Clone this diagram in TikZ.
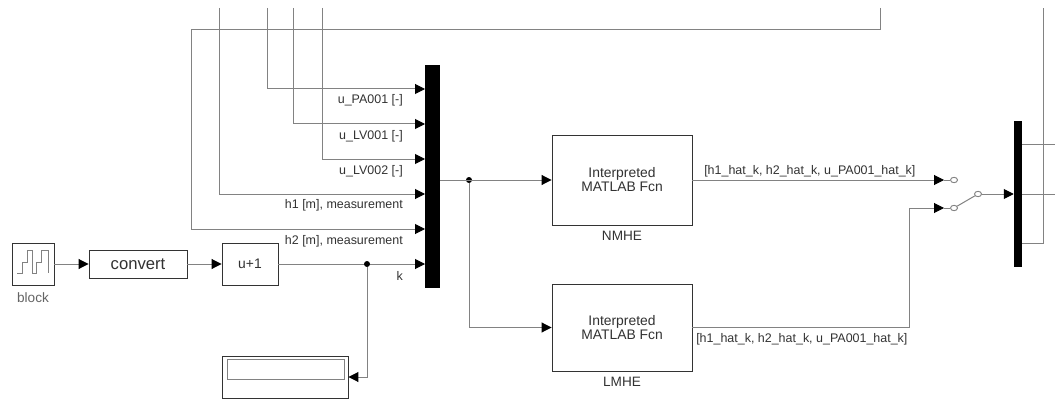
\documentclass[tikz,border=0pt]{standalone}
\usepackage{fontspec}
\setmainfont{Liberation Sans}
\usetikzlibrary{positioning,calc,arrows.meta,shadows,shapes.geometric}
\definecolor{wiregray}{RGB}{130,130,130}
\definecolor{labelgray}{RGB}{50,50,50}
\definecolor{namegray}{RGB}{100,100,100}

\begin{document}
\begin{tikzpicture}[
    x=0.75pt, y=-0.75pt,
    block/.style={rectangle, draw=black!80, fill=white, line width=0.7pt, inner sep=0pt,
                  align=center, text=labelgray, font=\fontsize{10.4}{10.5}\selectfont,
                  drop shadow={shadow xshift=0.6pt, shadow yshift=-0.6pt, opacity=0.3}},
    muxbar/.style={rectangle, fill=black, inner sep=0pt, minimum width=11.25pt},
    wire/.style={draw=wiregray, line width=0.75pt},
    arrow/.style={wire, -{Triangle[length=7.5pt, width=7.5pt, fill=black, color=black]}},
    siglabel/.style={font=\fontsize{9.35}{11}\selectfont, text=labelgray, inner sep=0pt, anchor=east},
    blockname/.style={font=\fontsize{10.2}{12}\selectfont, text=namegray, inner sep=0pt},
    joint/.style={circle, fill=black, inner sep=0pt, minimum size=4.5pt},
    contact/.style={ellipse, draw=wiregray, fill=white, inner sep=0pt, minimum width=5.25pt,
                    minimum height=4pt, line width=0.7pt}
]
\useasboundingbox (0,0) rectangle (1055,399);

\node[muxbar, minimum height=167.25pt] (mux1) at (432.5,176.5) {};
\node[muxbar, minimum width=6pt, minimum height=109.5pt] (mux2) at (1018,194) {};

\node[block, minimum width=31.5pt, minimum height=31.5pt] (step) at (33,264) {};
\node[block, minimum width=73.5pt, minimum height=21pt, font=\fontsize{12.5}{14}\selectfont] (conv) at (138,264) {convert};
\node[block, minimum width=42pt, minimum height=31.5pt] (inc) at (250,264) {u+1};
\node[block, minimum width=94.5pt, minimum height=31.5pt] (disp) at (285,377) {};
\draw[wiregray, line width=0.7pt, fill=white] (227,359) rectangle (344,379);
\node[block, minimum width=105pt, minimum height=67.5pt] (nmhe) at (622,180) {Interpreted\\MATLAB Fcn};
\node[block, minimum width=105pt, minimum height=65.25pt] (lmhe) at (622,327.5) {Interpreted\\MATLAB Fcn};

\node[blockname, below=5pt of step] {block};
\node[blockname, text=labelgray, below=4pt of nmhe] {NMHE};
\node[blockname, text=labelgray, below=4pt of lmhe] {LMHE};

% staircase icon
\draw[wiregray, line width=0.7pt] (17,273) -- (22,273) -- (22,262) -- (27,262) -- (27,250) -- (32,250) -- (32,273)
    -- (36,273) -- (36,262) -- (41,262) -- (41,250) -- (48,250) -- (48,273);

% free ends at the top
\coordinate (t1) at (219,8);
\coordinate (t2) at (267,8);
\coordinate (t3) at (293,8);
\coordinate (t4) at (322,8);
\coordinate (t5) at (880,8);

\draw[arrow] (t2) |- (425,89);
\draw[arrow] (t3) |- (425,124);
\draw[arrow] (t4) |- (425,159);
\draw[arrow] (t1) |- (425,194);
\draw[arrow] (t5) |- (191,30) |- (425,229);

\node[siglabel] at (403,100) {u\_PA001 [-]};
\node[siglabel] at (403,136) {u\_LV001 [-]};
\node[siglabel] at (403,171) {u\_LV002 [-]};
\node[siglabel] at (403,205.5) {h1 [m], measurement};
\node[siglabel] at (403,241) {h2 [m], measurement};
\node[siglabel] at (403,276) {k};

\draw[arrow] (step) -- (conv);
\draw[arrow] (conv) -- (inc);
\draw[arrow] (inc) -- (425,264);
\node[joint] (j1) at (367,264) {};
\draw[arrow] (j1) |- (disp.east);

\node[joint] (j2) at (469,180) {};
\draw[arrow] (440,180) -- (nmhe.west);
\draw[arrow] (j2) |- (lmhe.west);

\node[contact] (c1) at (954,180) {};
\node[contact] (c2) at (954,208) {};
\node[contact] (c3) at (978,194) {};
\coordinate (p1) at (944,180);
\coordinate (p2) at (944,208);
\draw[arrow] (nmhe.east) -- (p1);
\draw[wire] (p1) -- (c1);
\draw[arrow] (lmhe.east) -| (909,208) -- (p2);
\draw[wire] (p2) -- (c2);
\draw[wire] (c2) -- (c3);
\draw[arrow] (c3) -- (mux2.west |- c3);

\node[siglabel, anchor=west] at (704,171) {[h1\_hat\_k, h2\_hat\_k, u\_PA001\_hat\_k]};
\node[siglabel, anchor=west] at (696,339) {[h1\_hat\_k, h2\_hat\_k, u\_PA001\_hat\_k]};

\coordinate (o1) at (1055,145);
\coordinate (o2) at (1055,194);
\coordinate (o3) at (1043,8);
\draw[wire] (mux2.east |- o1) -- (o1);
\draw[wire] (mux2.east |- o2) -- (o2);
\draw[wire] (mux2.east |- 0,243) -| (o3);
\end{tikzpicture}
\end{document}
